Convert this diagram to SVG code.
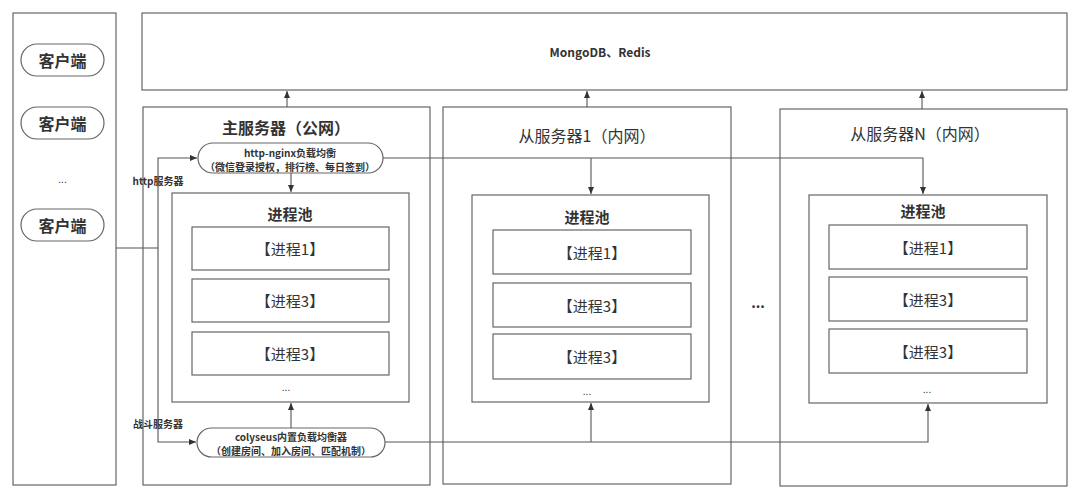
<svg xmlns="http://www.w3.org/2000/svg" width="1080" height="499" viewBox="0 0 1080 499">
<defs>
<marker id="ah" viewBox="0 0 8 8" refX="7" refY="4" markerWidth="8" markerHeight="8" markerUnits="userSpaceOnUse" orient="auto"><path d="M0,1 L7,4 L0,7 Z" fill="#333"/></marker>
<style>
.box{fill:#fff;stroke:#666;stroke-width:1.2}
.ln{fill:none;stroke:#555;stroke-width:1.1}
text{font-family:"Noto Sans CJK SC","Noto Sans",sans-serif;fill:#333;text-anchor:middle;dominant-baseline:central}
.b{font-weight:bold}
.t16{font-size:16px}
.t15{font-size:15px}
.t10{font-size:10px}
</style>
</defs>
<rect width="1080" height="499" fill="#fff"/>
<g id="clients">
<rect class="box" x="13" y="13" width="103" height="472"/>
<rect class="box" x="21" y="44" width="83" height="32" rx="16"/>
<text class="b t16" x="62.5" y="60">客户端</text>
<rect class="box" x="21" y="107" width="83" height="32" rx="16"/>
<text class="b t16" x="62.5" y="123">客户端</text>
<text class="t10" x="62.5" y="178">...</text>
<rect class="box" x="21" y="209" width="83" height="32" rx="16"/>
<text class="b t16" x="62.5" y="225">客户端</text>
</g>
<g id="db">
<rect class="box" x="142" y="13" width="925" height="77"/>
<text class="b" style="font-size:12px" x="600" y="51">MongoDB、Redis</text>
</g>
<g id="main-server">
<rect class="box" x="143" y="107" width="287" height="378"/>
<text class="b t16" x="286" y="127">主服务器（公网）</text>
<rect class="box" x="172" y="193" width="237" height="209"/>
<text class="b t15" x="290" y="213">进程池</text>
<rect class="box" x="192" y="227" width="197" height="43"/>
<text class="t15" x="290" y="248">【进程1】</text>
<rect class="box" x="192" y="279" width="197" height="43"/>
<text class="t15" x="290" y="300">【进程3】</text>
<rect class="box" x="192" y="332" width="197" height="43"/>
<text class="t15" x="290" y="353">【进程3】</text>
<text class="t10" x="286" y="386">...</text>
</g>
<g id="nginx">
<rect class="box" x="198" y="143" width="185" height="30" rx="15"/>
<text class="b t10" x="290" y="152">http-nginx负载均衡</text>
<text class="b t10" x="290" y="166">（微信登录授权，排行榜、每日签到）</text>
</g>
<g id="colyseus">
<rect class="box" x="197" y="428" width="188" height="29" rx="14.5"/>
<text class="b t10" x="291" y="436">colyseus内置负载均衡器</text>
<text class="b t10" x="291" y="450">（创建房间、加入房间、匹配机制）</text>
</g>
<g id="slave1">
<rect class="box" x="443" y="107" width="288" height="377"/>
<text class="t16" x="587" y="135">从服务器1（内网）</text>
<rect class="box" x="472" y="195" width="237" height="207"/>
<text class="b t15" x="587" y="216">进程池</text>
<rect class="box" x="493" y="230" width="198" height="44"/>
<text class="t15" x="592" y="252">【进程1】</text>
<rect class="box" x="493" y="283" width="198" height="44"/>
<text class="t15" x="592" y="305">【进程3】</text>
<rect class="box" x="493" y="334" width="198" height="45"/>
<text class="t15" x="592" y="356">【进程3】</text>
<text class="t10" x="587" y="390">...</text>
</g>
<g id="ellipsis">
<text class="b" style="font-size:14px" x="758" y="302">...</text>
</g>
<g id="slaveN">
<rect class="box" x="780" y="109" width="287" height="377"/>
<text class="t16" x="920" y="133">从服务器N（内网）</text>
<rect class="box" x="809" y="195" width="238" height="208"/>
<text class="b t15" x="923" y="210">进程池</text>
<rect class="box" x="829" y="225" width="198" height="44"/>
<text class="t15" x="928" y="247">【进程1】</text>
<rect class="box" x="829" y="277" width="198" height="44"/>
<text class="t15" x="928" y="299">【进程3】</text>
<rect class="box" x="829" y="329" width="198" height="44"/>
<text class="t15" x="928" y="351">【进程3】</text>
<text class="t10" x="927" y="388">...</text>
</g>
<g id="labels">
<text class="b t10" x="158" y="180">http服务器</text>
<text class="b t10" x="158" y="423">战斗服务器</text>
</g>
<g id="connectors">
<path class="ln" d="M287,107 V91" marker-end="url(#ah)"/>
<path class="ln" d="M587,107 V91" marker-end="url(#ah)"/>
<path class="ln" d="M922,109 V91" marker-end="url(#ah)"/>
<path class="ln" d="M116,248 H158"/>
<path class="ln" d="M158,248 V158 H197" marker-end="url(#ah)"/>
<path class="ln" d="M158,248 V442 H196" marker-end="url(#ah)"/>
<path class="ln" d="M291,173 V192" marker-end="url(#ah)"/>
<path class="ln" d="M291,428 V403" marker-end="url(#ah)"/>
<path class="ln" d="M383,158 H923 V194" marker-end="url(#ah)"/>
<path class="ln" d="M591,158 V194" marker-end="url(#ah)"/>
<path class="ln" d="M385,442 H928 V404" marker-end="url(#ah)"/>
<path class="ln" d="M591,442 V403" marker-end="url(#ah)"/>
</g>
</svg>
